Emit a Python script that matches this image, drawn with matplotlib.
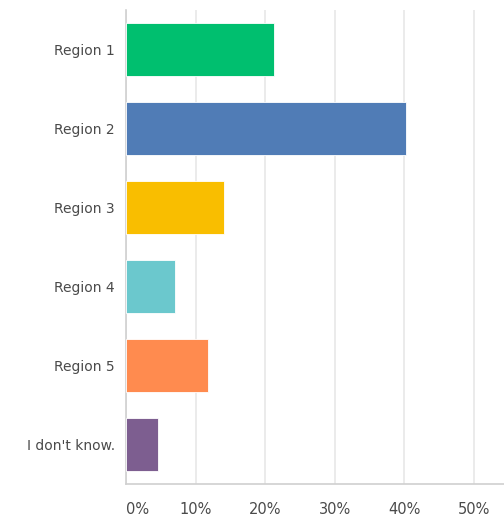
import matplotlib
matplotlib.use("Agg")
import matplotlib.pyplot as plt

categories = ["Region 1", "Region 2", "Region 3", "Region 4", "Region 5", "I don't know."]
values = [21.2, 40.2, 14.1, 7.0, 11.8, 4.6]
colors = ["#00BF6F", "#507CB6", "#F9BE00", "#6BC8CD", "#FF8B4F", "#7D5E90"]
xticks = [0, 10, 20, 30, 40, 50]
xtick_labels = ["0%", "10%", "20%", "30%", "40%", "50%"]

plt.rcParams['font.family'] = ['DejaVu Sans']

fig = plt.figure(figsize=(5.04, 5.16), dpi=100)
W, H = 504, 516
ax = fig.add_axes([126 / W, (H - 484) / H, (504 - 126) / W, (484 - 10) / H])

y = list(range(len(categories)))
ax.barh(y, values, height=0.66, color=colors, edgecolor="white", linewidth=0.6, zorder=3)
ax.set_ylim(len(categories) - 0.5, -0.5)
ax.set_xlim(0, (504 - 126) / 69.6 * 10)
ax.set_xticks(xticks)
ax.set_xticklabels(xtick_labels)
ax.set_yticks(y)
ax.set_yticklabels(categories)

ax.grid(axis="x", color="#E8E8E8", linewidth=1.2, zorder=0)
for s in ["top", "right"]:
    ax.spines[s].set_visible(False)
for s in ["left", "bottom"]:
    ax.spines[s].set_color("#D0D0D0")
    ax.spines[s].set_linewidth(1.2)
ax.tick_params(axis="both", length=0, labelsize=10, colors="#4A4A4A")
ax.tick_params(axis="x", labelsize=10.5, pad=13)
ax.tick_params(axis="y", pad=8)

ax.get_xticklabels()[0].set_horizontalalignment("left")

fig.savefig("out.png", dpi=100)
